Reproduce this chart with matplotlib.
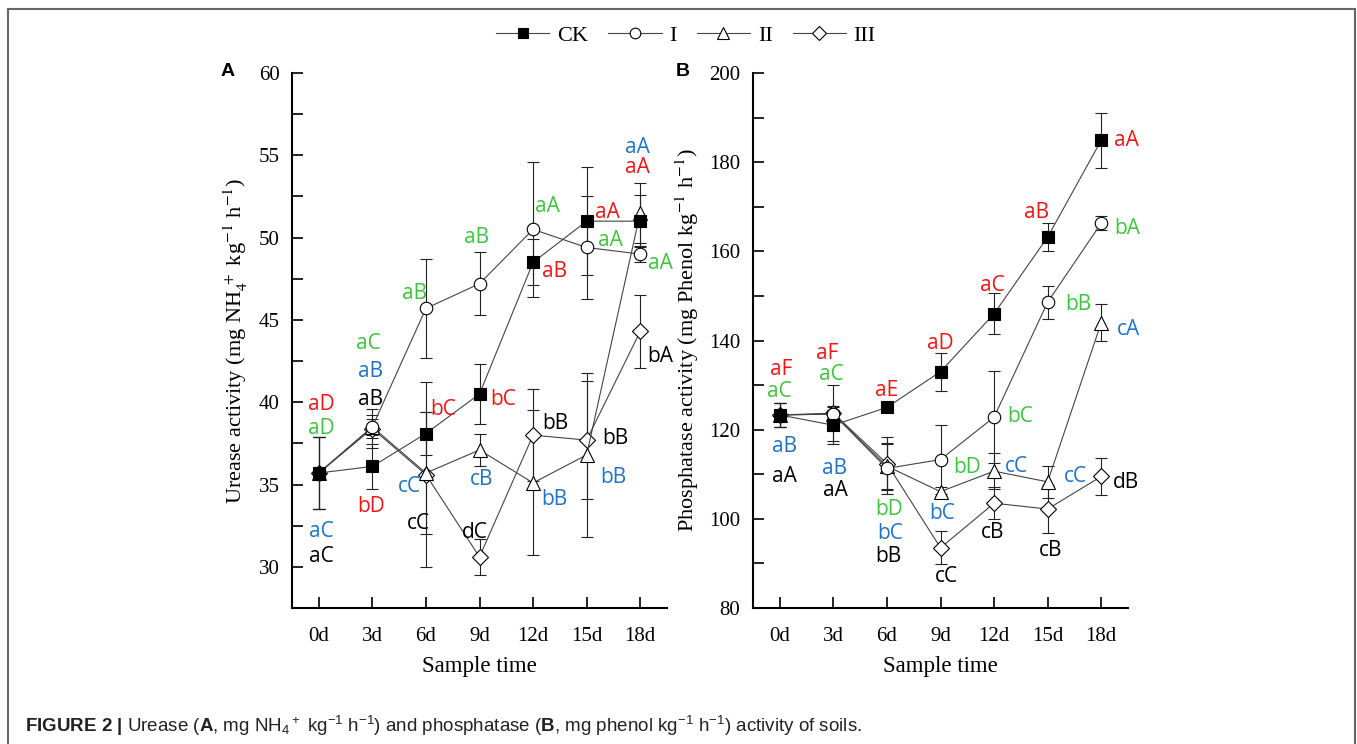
import matplotlib.pyplot as plt
from matplotlib.lines import Line2D

days = ['0d', '3d', '6d', '9d', '12d', '15d', '18d']
groups = ['CK', 'I', 'II', 'III']

# urease (mg NH4+ kg-1 h-1)
urease_ck = [35.7, 36.1, 38.1, 40.5, 48.5, 51.0, 51.0]
urease_ck_err = [2.2, 1.35, 1.3, 1.8, 1.4, 3.3, 1.6]
urease_i = [35.7, 38.5, 45.7, 47.2, 50.5, 49.4, 49.0]
urease_i_err = [2.2, 0.5, 3.0, 1.9, 4.1, 3.1, 0.5]
urease_ii = [35.7, 38.5, 35.7, 37.1, 35.1, 36.8, 51.5]
urease_ii_err = [2.2, 0.7, 3.7, 0.95, 4.4, 5.0, 1.8]
urease_iii = [35.7, 38.4, 35.6, 30.6, 38.0, 37.7, 44.3]
urease_iii_err = [2.2, 1.2, 5.6, 1.1, 2.8, 3.6, 2.2]

# phosphatase (mg phenol kg-1 h-1)
phos_ck = [123.3, 121.0, 125.0, 133.0, 146.0, 163.2, 184.9]
phos_ck_err = [2.7, 4.2, 0.8, 4.3, 4.6, 3.1, 6.2]
phos_i = [123.3, 123.5, 111.3, 113.3, 122.8, 148.6, 166.3]
phos_i_err = [2.7, 1.0, 5.8, 7.7, 10.3, 3.7, 1.6]
phos_ii = [123.3, 123.5, 111.8, 106.1, 110.7, 108.3, 144.0]
phos_ii_err = [2.7, 1.5, 5.0, 1.0, 4.0, 3.6, 4.2]
phos_iii = [123.3, 123.7, 112.4, 93.5, 103.5, 102.2, 109.5]
phos_iii_err = [2.7, 6.3, 6.0, 3.7, 3.6, 5.3, 4.1]

# significance letters: (x index, y, text, colour key)
urease_letters = [
    (0.05, 39.86, 'aD', 'r'), (0.05, 38.43, 'aD', 'g'), (0.05, 32.13, 'aC', 'b'), (0.05, 30.61, 'aC', 'k'),
    (0.92, 43.55, 'aC', 'g'), (0.97, 41.85, 'aB', 'b'), (0.97, 40.16, 'aB', 'k'), (0.97, 33.66, 'bD', 'r'),
    (1.78, 46.63, 'aB', 'g'), (2.32, 39.55, 'bC', 'r'), (1.70, 34.88, 'cC', 'b'), (1.86, 32.64, 'cC', 'k'),
    (2.95, 49.98, 'aB', 'g'), (3.44, 40.16, 'bC', 'r'), (3.04, 35.29, 'cB', 'b'), (2.92, 32.09, 'dC', 'k'),
    (4.26, 51.89, 'aA', 'g'), (4.41, 47.95, 'aB', 'r'), (4.41, 38.70, 'bB', 'k'), (4.39, 34.07, 'bB', 'b'),
    (5.38, 51.54, 'aA', 'r'), (5.44, 49.82, 'aA', 'g'), (5.53, 37.79, 'bB', 'k'), (5.49, 35.43, 'bB', 'b'),
    (5.94, 55.47, 'aA', 'b'), (5.95, 54.25, 'aA', 'r'), (6.37, 48.43, 'aA', 'g'), (6.37, 42.80, 'bA', 'k'),
]
phos_letters = [
    (0.03, 133.4, 'aF', 'r'), (-0.01, 128.5, 'aC', 'g'), (0.08, 116.2, 'aB', 'b'), (0.08, 109.4, 'aA', 'k'),
    (0.88, 137.1, 'aF', 'r'), (0.97, 132.3, 'aC', 'g'), (1.03, 111.3, 'aB', 'b'), (1.03, 106.4, 'aA', 'k'),
    (1.99, 128.7, 'aE', 'r'), (2.04, 102.0, 'bD', 'g'), (2.06, 96.7, 'bC', 'b'), (2.03, 91.5, 'bB', 'k'),
    (3.00, 139.4, 'aD', 'r'), (3.49, 111.5, 'bD', 'g'), (3.04, 101.2, 'bC', 'b'), (3.11, 87.0, 'cC', 'k'),
    (3.97, 152.4, 'aC', 'r'), (4.49, 122.9, 'bC', 'g'), (4.42, 111.7, 'cC', 'b'), (3.97, 96.9, 'cB', 'k'),
    (4.79, 168.8, 'aB', 'r'), (5.58, 148.0, 'bB', 'g'), (5.51, 109.4, 'cC', 'b'), (5.06, 93.0, 'cB', 'k'),
    (6.48, 184.9, 'aA', 'r'), (6.48, 165.1, 'bA', 'g'), (6.50, 142.5, 'cA', 'b'), (6.47, 108.2, 'dB', 'k'),
]
letter_colors = {'r': '#F01515', 'g': '#3DC43D', 'b': '#1E73C8', 'k': 'black'}

styles = [('s', 'black', 8.5), ('o', 'white', 9), ('^', 'white', 9.5), ('D', 'white', 8)]
serif = 'Liberation Serif'

fig = plt.figure(figsize=(13.57, 7.44), dpi=100)
axA = fig.add_axes([292 / 1357, 1 - 608 / 744, 375 / 1357, 535 / 744])
axB = fig.add_axes([753 / 1357, 1 - 608 / 744, 375 / 1357, 535 / 744])
x = list(range(len(days)))


def draw(ax, data, letters):
    for (vals, err), (m, fc, ms) in reversed(list(zip(data, styles))):
        ax.errorbar(x, vals, yerr=err, marker=m, ms=ms, mfc=fc, mec='black', mew=0.8,
                    color='#444444', lw=0.8, ecolor='#222222', elinewidth=0.8,
                    capsize=4, capthick=0.8)
    for lx, ly, t, c in letters:
        ax.text(lx, ly, t, color=letter_colors[c], fontsize=15, family='Open Sans',
                ha='center', va='center')
    ax.set_xlim(-0.5, 6.5)
    ax.set_xticks(x)
    ax.set_xticklabels(days)
    for s in ['top', 'right']:
        ax.spines[s].set_visible(False)
    for s in ['left', 'bottom']:
        ax.spines[s].set_linewidth(1.5)
    ax.tick_params(direction='in', length=8, width=1.2, labelsize=15, pad=9)
    ax.tick_params(axis='y', which='minor', direction='in', length=8, width=1.2)
    ax.tick_params(axis='x', pad=14)
    for lab in ax.get_xticklabels() + ax.get_yticklabels():
        lab.set_family(serif)
    ax.set_xlabel('Sample time', family=serif, fontsize=16.5, labelpad=7)


draw(axA, [(urease_ck, urease_ck_err), (urease_i, urease_i_err),
           (urease_ii, urease_ii_err), (urease_iii, urease_iii_err)], urease_letters)
axA.set_ylim(27.5, 60)
axA.set_yticks([30, 35, 40, 45, 50, 55, 60])
axA.set_yticks([32.5, 37.5, 42.5, 47.5, 52.5, 57.5], minor=True)
for lab in axA.get_yticklabels():
    lab.set_family(serif)
axA.set_ylabel(r'Urease activity (mg NH$_4^{\ +}$ kg$^{-1}$ h$^{-1}$)', family=serif,
               fontsize=16, labelpad=6, math_fontfamily='stix')

draw(axB, [(phos_ck, phos_ck_err), (phos_i, phos_i_err),
           (phos_ii, phos_ii_err), (phos_iii, phos_iii_err)], phos_letters)
axB.set_ylim(80, 200)
axB.set_yticks([80, 100, 120, 140, 160, 180, 200])
axB.set_yticks([90, 110, 130, 150, 170, 190], minor=True)
for lab in axB.get_yticklabels():
    lab.set_family(serif)
axB.set_ylabel(r'Phosphatase activity (mg Phenol kg$^{-1}$ h$^{-1}$)', family=serif,
               fontsize=16, labelpad=6, math_fontfamily='stix')

fig.text(228 / 1357, 1 - 72 / 744, 'A', family='Liberation Sans', weight='bold', fontsize=14,
         ha='center', va='center')
fig.text(683 / 1357, 1 - 72 / 744, 'B', family='Liberation Sans', weight='bold', fontsize=14,
         ha='center', va='center')

handles = [Line2D([], [], color='#444444', lw=0.8, marker=m, ms=ms * 0.85, mfc=fc, mec='black', mew=0.8)
           for m, fc, ms in styles]
fig.legend(handles, groups, loc='center', bbox_to_anchor=(686 / 1357, 1 - 36 / 744), ncol=4,
           frameon=False, prop={'family': serif, 'size': 16}, handlelength=2.4,
           handletextpad=0.35, columnspacing=0.9)

caption = (r'$\mathbf{FIGURE\ 2\ |}$ Urease ($\mathbf{A}$, mg NH$_4$$^+$ kg$^{-1}$ h$^{-1}$) '
           r'and phosphatase ($\mathbf{B}$, mg phenol kg$^{-1}$ h$^{-1}$) activity of soils.')
plt.rcParams['mathtext.rm'] = 'Liberation Sans'
plt.rcParams['mathtext.bf'] = 'Liberation Sans:bold'
plt.rcParams['mathtext.it'] = 'Liberation Sans:italic'
fig.text(25 / 1357, 1 - 726 / 744, caption, family='Liberation Sans', fontsize=13.5,
         ha='left', va='center', math_fontfamily='custom', color='#222222')

# frame around figure
for xs, ys in [([8, 8], [744, 9]), ([8, 1355], [9, 9]), ([1355, 1355], [9, 744])]:
    fig.add_artist(Line2D([v / 1357 for v in xs], [1 - v / 744 for v in ys],
                          transform=fig.transFigure, color='#666666', lw=1.5))

fig.savefig('out.png', dpi=100)
